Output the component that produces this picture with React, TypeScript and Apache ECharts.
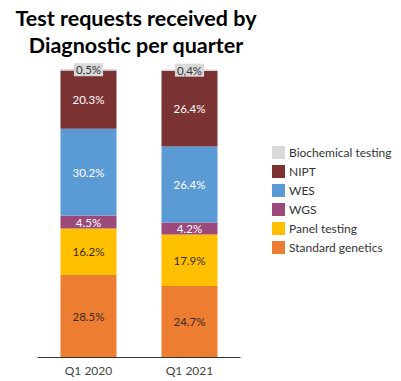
import React, { useEffect, useRef } from "react";
import * as echarts from "echarts";

const categories = ["Q1 2020", "Q1 2021"];
const standardGenetics = [28.5, 24.7];
const panelTesting = [16.2, 17.9];
const wgs = [4.5, 4.2];
const wes = [30.2, 26.4];
const nipt = [20.3, 26.4];
const biochemical = [0.5, 0.4];
const legendOrder = ["Biochemical testing", "NIPT", "WES", "WGS", "Panel testing", "Standard genetics"];

const FONT = "Lato";

export default function App() {
  const ref = useRef<HTMLDivElement>(null);
  useEffect(() => {
    const chart = echarts.init(ref.current!, null, { renderer: "svg" });
    const mk = (name: string, data: number[], color: string, labelColor: string, extra: any = {}) => ({
      name,
      type: "bar",
      stack: "total",
      data,
      barWidth: 56,
      itemStyle: { color },
      label: {
        show: true,
        position: "inside",
        color: labelColor,
        fontSize: 11.5,
        fontFamily: FONT,
        formatter: (p: any) => p.value.toFixed(1) + "%",
        ...extra,
      },
    });
    chart.setOption({
      animation: false,
      title: {
        text: "Test requests received by\nDiagnostic per quarter",
        left: 131,
        top: -1,
        textAlign: "center",
        textStyle: { fontFamily: FONT, fontWeight: "bold", fontSize: 21.5, lineHeight: 27, color: "#000" },
      },
      legend: {
        orient: "vertical",
        left: 272,
        top: 146,
        padding: 0,
        itemWidth: 13,
        itemHeight: 13,
        itemGap: 6,
        icon: "rect",
        data: legendOrder,
        textStyle: { fontFamily: FONT, fontSize: 12, color: "#333", padding: [0, 0, 0, -1] },
      },
      grid: { left: 38, right: 161, top: 69, bottom: 24 },
      xAxis: {
        type: "category",
        data: categories,
        axisLine: { lineStyle: { color: "#333", width: 1 } },
        axisTick: { show: false },
        axisLabel: { fontFamily: FONT, fontSize: 12, color: "#444", margin: 7 },
      },
      yAxis: { type: "value", min: 0, max: 100.2, show: false, splitLine: { show: false } },
      series: [
        mk("Standard genetics", standardGenetics, "#ed7d31", "#3a2a20"),
        mk("Panel testing", panelTesting, "#ffc000", "#3a2a20"),
        mk("WGS", wgs, "#9c4a7c", "#fff"),
        mk("WES", wes, "#5b9bd5", "#fff"),
        mk("NIPT", nipt, "#7b3232", "#fff"),
        mk("Biochemical testing", biochemical, "#d9d9d9", "#333", {
          backgroundColor: "#d9d9d9",
          padding: [1, 2, 0, 2],
          formatter: (p: any) => p.value.toFixed(1).replace(".", ",") + "%",
        }),
      ],
    });
    return () => chart.dispose();
  }, []);
  return <div ref={ref} style={{ position: "absolute", left: 0, top: 0, width: 401, height: 381 }} />;
}
